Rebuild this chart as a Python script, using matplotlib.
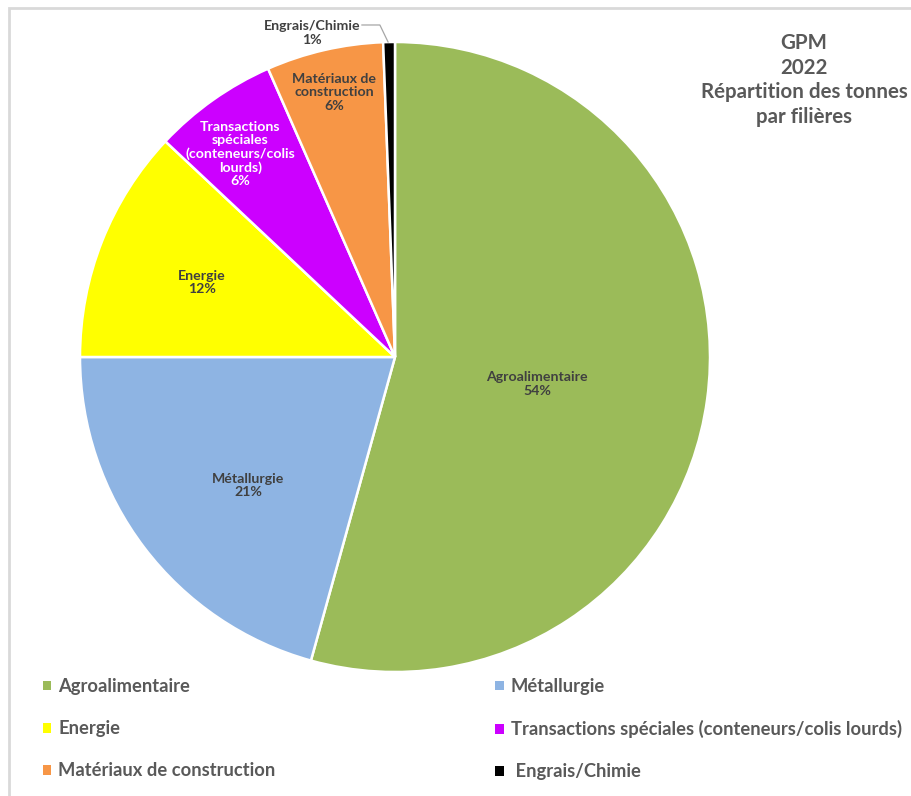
import numpy as np
import matplotlib.pyplot as plt
from matplotlib.patches import Rectangle

plt.rcParams['font.family'] = ['Lato', 'DejaVu Sans']

# tonnage share by sector (%)
filieres = ['Agroalimentaire', 'Métallurgie', 'Energie',
            'Transactions\nspéciales\n(conteneurs/colis\nlourds)',
            'Matériaux de\nconstruction', 'Engrais/Chimie']
legend_names = ['Agroalimentaire', 'Métallurgie', 'Energie',
                'Transactions spéciales (conteneurs/colis lourds)',
                'Matériaux de construction', ' Engrais/Chimie']
parts = [54.3, 20.7, 12.0, 6.4, 6.0, 0.6]
colors = ['#9BBB59', '#8EB4E3', '#FFFF00', '#CC00FF', '#F79646', '#000000']

W, H = 912, 796
fig = plt.figure(figsize=(W / 100, H / 100), dpi=100)

# light frame around the chart area
fig.patches.append(Rectangle((9.5 / W, -0.1), 1.2, 1 - 7.5 / H + 0.1,
                             transform=fig.transFigure, fill=False,
                             edgecolor='#D9D9D9', linewidth=2))

cx, cy, r = 395, 357, 315
ax = fig.add_axes([(cx - r) / W, 1 - (cy + r) / H, 2 * r / W, 2 * r / H])
wedges, _ = ax.pie(parts, colors=colors, startangle=90, counterclock=False,
                   radius=1, wedgeprops=dict(edgecolor='white', linewidth=1.8))
ax.set_xlim(-1, 1)
ax.set_ylim(-1, 1)
ax.set_aspect('equal')
ax.axis('off')

# labels inside the slices: radius fraction and angle nudge (deg)
dist = [0.46, 0.62, 0.657, 0.81, 0.862]
nudge = [-3, 4, 0.5, 2, 0]
txt_col = ['#404040', '#404040', '#404040', 'white', '#404040']
for i in range(5):
    w = wedges[i]
    mid = np.deg2rad((w.theta1 + w.theta2) / 2 + nudge[i])
    x, y = dist[i] * np.cos(mid), dist[i] * np.sin(mid)
    ax.text(x, y, '%s\n%d%%' % (filieres[i], round(parts[i])),
            ha='center', va='center', fontsize=10.2, fontweight='bold',
            color=txt_col[i], linespacing=1.12)

# small slice labelled outside with a leader line
ax.text(-0.263, 1.029, '%s\n%d%%' % (filieres[5], round(parts[5])),
        ha='center', va='center', fontsize=10.2, fontweight='bold',
        color='#404040', linespacing=1.25, clip_on=False)
ax.plot([-0.105, -0.048, -0.022], [1.054, 1.054, 1.0], color='#A6A6A6', lw=0.9,
        clip_on=False)

# title block
fig.text(804 / W, 1 - 80 / H, 'GPM\n2022\nRépartition des tonnes\npar filières',
         ha='center', va='center', fontsize=14.8, fontweight='bold',
         color='#595959', linespacing=1.3)

order = [0, 2, 4, 1, 3, 5]
leg = fig.legend([wedges[i] for i in order], [legend_names[i] for i in order],
                 ncol=2, loc='upper left', bbox_to_anchor=(43 / W, 1 - 678 / H),
                 frameon=False, fontsize=13.2, handlelength=0.45, handleheight=0.45,
                 handletextpad=0.38, labelspacing=1.37, columnspacing=12.0,
                 borderpad=0, borderaxespad=0)
for t in leg.get_texts():
    t.set_color('#595959')
    t.set_fontweight('bold')
for p in leg.get_patches():
    p.set_edgecolor('none')

fig.savefig('out.png', dpi=100)
